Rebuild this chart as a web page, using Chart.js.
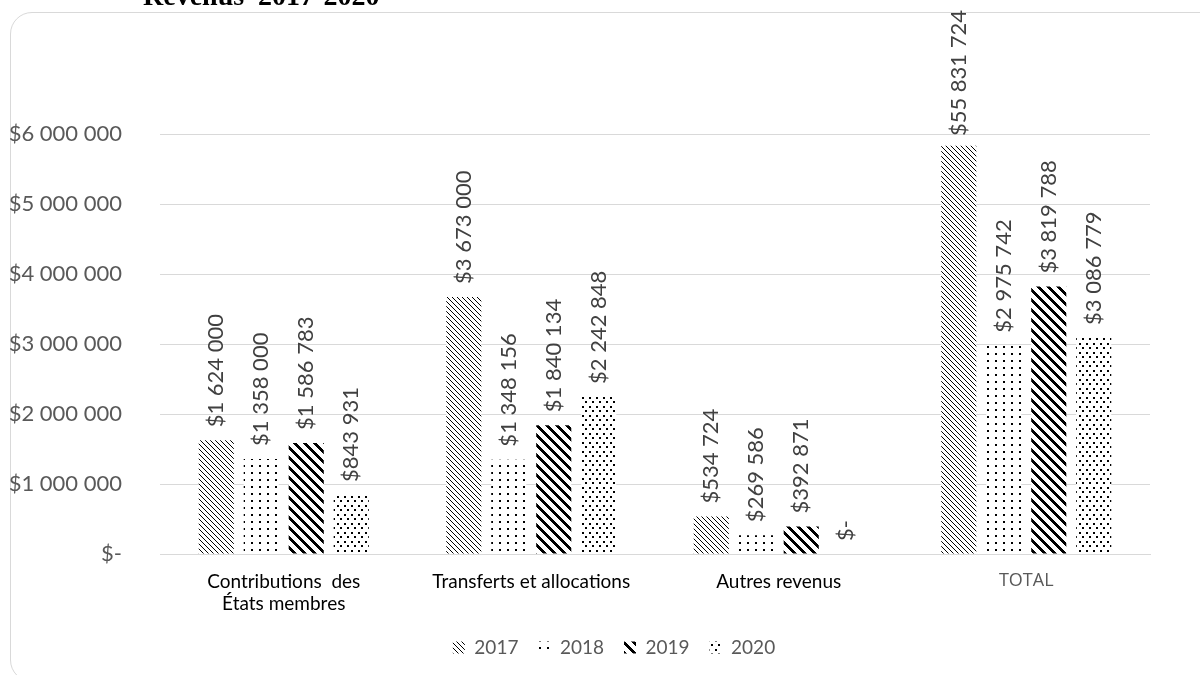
<!DOCTYPE html>
<html>
<head>
<meta charset="utf-8">
<script src="https://cdn.jsdelivr.net/npm/chart.js@4.4.1/dist/chart.umd.min.js"></script>
<style>
  html, body { margin:0; padding:0; background:#fff; width:1200px; height:675px; overflow:hidden; }
  #frame { position:absolute; left:10px; top:12px; width:1250px; height:670px; border:1px solid #d9d9d9; border-radius:22px; box-sizing:border-box; }
  #title { position:absolute; left:143px; top:-18px; font-family:"Liberation Serif", "Times New Roman", serif; font-weight:bold; font-size:28px; line-height:28px; color:#000; white-space:pre; z-index:3; }
  #wrap { position:absolute; left:0; top:0; width:1200px; height:675px; z-index:2; }
</style>
</head>
<body>
<div id="frame"></div>
<div id="title">Revenus  2017-2020</div>
<div id="wrap"><canvas id="c" width="1200" height="675"></canvas></div>
<script>
const categories = [["Contributions  des", "États membres"], "Transferts et allocations", "Autres revenus", "TOTAL"];
const seriesNames = ["2017", "2018", "2019", "2020"];
const values2017 = [1624000, 3673000, 534724, 5831724];
const values2018 = [1358000, 1348156, 269586, 2975742];
const values2019 = [1586783, 1840134, 392871, 3819788];
const values2020 = [843931, 2242848, 0, 3086779];
const labels2017 = ["$1 624 000", "$3 673 000", "$534 724", "$55 831 724"];
const labels2018 = ["$1 358 000", "$1 348 156", "$269 586", "$2 975 742"];
const labels2019 = ["$1 586 783", "$1 840 134", "$392 871", "$3 819 788"];
const labels2020 = ["$843 931", "$2 242 848", "$-", "$3 086 779"];
const yTicks = [0, 1000000, 2000000, 3000000, 4000000, 5000000, 6000000];

function makePattern(w, h, drawFn) {
  const c = document.createElement('canvas');
  c.width = w; c.height = h;
  const g = c.getContext('2d');
  g.fillStyle = '#fff'; g.fillRect(0, 0, w, h);
  g.fillStyle = '#000';
  drawFn(g, w, h);
  return document.getElementById('c').getContext('2d').createPattern(c, 'repeat');
}
// 2017: fine diagonal hatch
const pat2017 = makePattern(5, 5, (g) => { for (let i = 0; i < 5; i++) g.fillRect(i, i, 1, 1); });
// 2018: sparse dots
const pat2018 = makePattern(8, 7, (g) => { g.fillRect(3, 3, 2, 2); });
// 2019: thick diagonal stripes
const pat2019 = makePattern(10, 10, (g) => {
  for (let y = 0; y < 10; y++) for (let x = 0; x < 10; x++) {
    if ((((x - y) % 10) + 10) % 10 < 4) g.fillRect(x, y, 1, 1);
  }
});
// 2020: offset dots
const pat2020 = makePattern(7, 9, (g) => { g.fillRect(1, 1, 2, 2); g.fillRect(4, 5, 2, 2); });

const seriesValues = [values2017, values2018, values2019, values2020];
const seriesLabels = [labels2017, labels2018, labels2019, labels2020];
const patterns = [pat2017, pat2018, pat2019, pat2020];

const fmt = (v) => v === 0 ? '$-' : '$' + String(v).replace(/\B(?=(\d{3})+(?!\d))/g, ' ');

const dataLabelPlugin = {
  id: 'dataLabels',
  afterDatasetsDraw(chart) {
    const ctx = chart.ctx;
    ctx.save();
    ctx.font = '22px Lato';
    ctx.fillStyle = '#404040';
    ctx.textAlign = 'left';
    ctx.textBaseline = 'middle';
    chart.data.datasets.forEach((ds, di) => {
      const meta = chart.getDatasetMeta(di);
      meta.data.forEach((bar, i) => {
        const txt = seriesLabels[di][i];
        const w = ctx.measureText(txt).width;
        let start = bar.y - 13;
        if (start - w < 10) start = 10 + w;
        ctx.save();
        ctx.translate(bar.x, start);
        ctx.rotate(-Math.PI / 2);
        ctx.fillText(txt, 0, 0);
        ctx.restore();
      });
    });
    ctx.restore();
  }
};

const legendShift = {
  id: 'legendShift',
  afterLayout(chart) {
    if (chart.legend) { chart.legend.left += 34; chart.legend.right += 34; }
  }
};

new Chart(document.getElementById('c'), {
  type: 'bar',
  data: {
    labels: categories,
    datasets: seriesNames.map((n, i) => ({
      label: n,
      data: seriesValues[i],
      backgroundColor: patterns[i],
      borderWidth: 0,
      categoryPercentage: 0.727,
      barPercentage: 0.78
    }))
  },
  options: {
    responsive: false,
    animation: false,
    devicePixelRatio: 1,
    layout: { padding: { left: 10, right: 50, top: 134, bottom: 8 } },
    plugins: {
      title: { display: false },
      tooltip: { enabled: false },
      legend: {
        position: 'bottom',
        labels: {
          boxWidth: 12, boxHeight: 12, padding: 20,
          color: '#595959',
          font: { family: 'Lato', size: 19 }
        }
      }
    },
    scales: {
      x: {
        grid: { display: false, drawTicks: false },
        border: { display: true, color: '#d9d9d9', width: 1 },
        ticks: {
          padding: 16,
          maxRotation: 0,
          autoSkip: false,
          color: (c) => c.index === 3 ? '#595959' : '#000',
          font: (c) => c.index === 3 ? { family: 'Open Sans', size: 18 } : { family: 'Lato', size: 19, lineHeight: 1.2 }
        },
        afterFit: (s) => { s.height = 64; }
      },
      y: {
        min: 0, max: 6000000,
        afterBuildTicks: (s) => { s.ticks = yTicks.map(v => ({ value: v })); },
        grid: { color: '#d9d9d9', drawTicks: false },
        border: { display: false },
        ticks: {
          padding: 38,
          color: '#595959',
          font: { family: 'Lato', size: 22 },
          callback: (v) => fmt(v)
        },
        afterFit: (s) => { s.width = 150; }
      }
    }
  },
  plugins: [dataLabelPlugin, legendShift]
});
</script>
</body>
</html>
